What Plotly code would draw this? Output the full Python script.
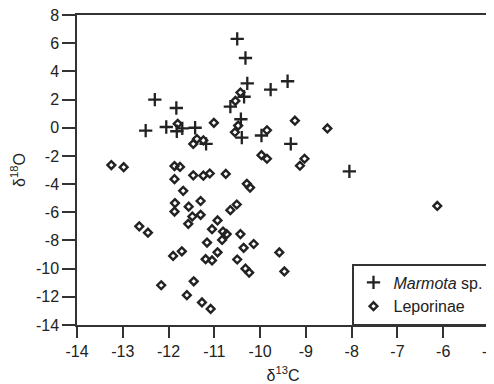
import plotly.graph_objects as go

marmota_x = [-10.5, -10.32, -10.28, -10.35, -9.77, -9.4, -9.33, -8.05, -9.97, -12.3,
             -12.5, -11.83, -12.05, -11.82, -11.7, -11.42, -11.18, -10.65, -10.42, -10.4]
marmota_y = [6.3, 4.95, 3.15, 2.2, 2.7, 3.3, -1.15, -3.1, -0.55, 2.0,
             -0.2, 1.4, 0.05, -0.25, -0.05, 0.0, -1.15, 1.5, 0.6, -0.7]

lep_x = [-13.25, -12.98, -11.8, -11.87, -11.75, -11.87, -11.68, -11.46, -11.24, -11.1,
         -11.46, -11.38, -11.24, -11.01, -10.75, -10.54, -10.43, -10.48, -10.55, -10.29,
         -10.22, -9.85, -9.97, -9.85, -9.24, -8.53, -9.13, -9.03, -6.13, -10.14,
         -9.58, -9.47, -12.64, -12.45, -12.16, -11.9, -11.71, -11.86, -11.87, -11.56,
         -11.3, -11.48, -11.57, -11.3, -11.6, -11.45, -11.27, -11.08, -11.16, -11.19,
         -11.05, -10.93, -11.05, -10.93, -10.81, -10.73, -10.83, -10.65, -10.51, -10.43,
         -10.36, -10.5, -10.32, -10.24]
lep_y = [-2.65, -2.8, 0.28, -2.72, -2.78, -3.65, -4.48, -3.38, -3.4, -3.25,
         -1.15, -0.8, -0.9, 0.35, -3.28, 1.9, 2.5, 0.15, -0.32, -3.98,
         -4.25, -0.18, -1.95, -2.2, 0.5, -0.05, -2.7, -2.2, -5.55, -8.25,
         -8.85, -10.2, -7.0, -7.45, -11.18, -9.1, -8.77, -5.35, -5.95, -5.6,
         -5.2, -6.3, -6.82, -6.18, -11.88, -10.9, -12.4, -12.86, -8.15, -9.33,
         -9.42, -8.84, -7.2, -6.58, -7.37, -7.55, -7.96, -5.85, -5.45, -7.55,
         -8.52, -9.35, -10.0, -10.28]

x_ticks = [-14, -13, -12, -11, -10, -9, -8, -7, -6, -5]
y_ticks = [8, 6, 4, 2, 0, -2, -4, -6, -8, -10, -12, -14]

ink = "#222222"
FONT = "Liberation Sans, Arial"
fig = go.Figure()
fig.add_trace(go.Scatter(
    x=marmota_x, y=marmota_y, mode="markers", name="<i>Marmota</i> sp.",
    marker=dict(symbol="cross-thin", size=9.5, line=dict(width=2.3, color=ink), color=ink),
))
fig.add_trace(go.Scatter(
    x=lep_x, y=lep_y, mode="markers", name="Leporinae",
    marker=dict(symbol="diamond-open", size=6, line=dict(width=2.4, color=ink), color=ink),
))

axis_common = dict(
    showgrid=False, zeroline=False, showline=True, linecolor="#333", linewidth=1.5,
    mirror=True, ticks="outside", tickwidth=1.5, tickcolor="#333", automargin=False,
    ticklabeloverflow="allow",
    tickfont=dict(family=FONT, size=16, color="#222"),
)
fig.update_xaxes(range=[-14, -5], tickvals=x_ticks, ticktext=[str(v) for v in x_ticks], ticklen=11,
                 title=dict(text="δ<sup>13</sup>C", font=dict(family=FONT, size=16, color="#222"), standoff=11),
                 **axis_common)
fig.update_yaxes(range=[-14, 8], tickvals=y_ticks, ticktext=[str(v) for v in y_ticks], ticklen=13,
                 title=dict(text="δ<sup>18</sup>O", font=dict(family=FONT, size=16, color="#222"), standoff=8),
                 **axis_common)
# the page adds an 8px body margin, so the figure is sized 8px smaller
fig.update_layout(
    width=486, height=376, margin=dict(l=69, r=5, t=7, b=59),
    plot_bgcolor="white", paper_bgcolor="white",
    legend=dict(x=1, y=0, xanchor="right", yanchor="bottom", bgcolor="white",
                bordercolor="#333", borderwidth=1.5,
                font=dict(family=FONT, size=16, color="#222"),
                itemwidth=30, tracegroupgap=2),
)
fig.write_html("out.html")
